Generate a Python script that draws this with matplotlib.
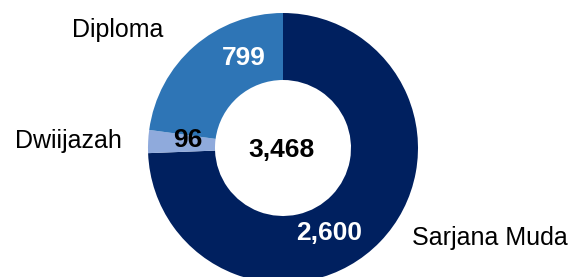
import matplotlib
matplotlib.use("Agg")
import matplotlib.pyplot as plt

# data
categories = ['Sarjana Muda', 'Dwiijazah', 'Diploma']
values = [2600, 96, 799]
value_text = ['2,600', '96', '799']
total_text = '3,468'
colors = ['#00205F', '#8FAADC', '#2E75B6']
value_colors = ['white', 'black', 'white']

# label placement (pixel coords, y up), baseline
value_pos = [(329, 37), (188, 130), (243.5, 212)]
cat_pos = [(412, 32), (15, 129), (72, 240)]

plt.rcParams['font.family'] = ['Liberation Sans', 'DejaVu Sans']

fig = plt.figure(figsize=(5.73, 2.77), dpi=100)
ax = fig.add_axes([0, 0, 1, 1])

ax.pie(values, colors=colors, startangle=90, counterclock=False,
       center=(283, 129), radius=135,
       wedgeprops=dict(width=67, linewidth=0))
ax.set_xlim(0, 573)
ax.set_ylim(0, 277)
ax.set_aspect('equal')
ax.axis('off')

for txt, (x, y), c in zip(value_text, value_pos, value_colors):
    ax.text(x, y, txt, ha='center', va='baseline', fontsize=19,
            fontweight='bold', color=c)

for name, (x, y) in zip(categories, cat_pos):
    ax.text(x, y, name, ha='left', va='baseline', fontsize=18, color='black')

ax.text(281.5, 120, total_text, ha='center', va='baseline', fontsize=19,
        fontweight='bold', color='black')

fig.savefig('out.png', dpi=100)
